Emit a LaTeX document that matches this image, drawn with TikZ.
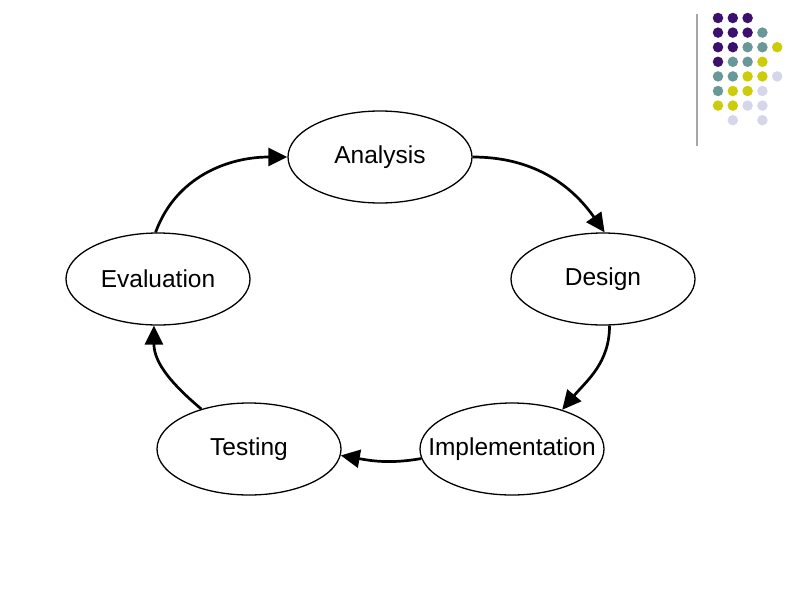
\documentclass[tikz,border=0pt]{standalone}
\usepackage{fontspec}
\setmainfont{Liberation Sans}
\usetikzlibrary{shapes.geometric,arrows.meta}
\definecolor{dpurple}{RGB}{62,16,110}
\definecolor{dteal}{RGB}{104,152,152}
\definecolor{dyellow}{RGB}{204,204,10}
\definecolor{dlav}{RGB}{214,214,235}
\begin{document}
\begin{tikzpicture}[x=1pt,y=-1pt,
  phase/.style={ellipse,draw,line width=1.3pt,minimum width=184pt,minimum height=92pt,inner sep=0pt,font=\fontsize{24.5}{28}\selectfont},
  flow/.style={line width=2.7pt,-{Triangle[length=19pt,width=18pt]}},
  dot/.style={circle,fill=#1,minimum size=10.5pt,inner sep=0pt}]
\useasboundingbox (0,0) rectangle (800,600);
% decoration
\draw[gray!70,line width=1.2pt] (697,14) -- (697,146);
\foreach \r/\cols in {0/{dpurple,dpurple,dpurple},1/{dpurple,dpurple,dpurple,dteal},2/{dpurple,dpurple,dteal,dteal,dyellow},3/{dpurple,dteal,dteal,dyellow},4/{dteal,dteal,dyellow,dyellow,dlav},5/{dteal,dyellow,dyellow,dlav},6/{dyellow,dyellow,dlav,dlav}}{
  \foreach \c [count=\i from 0] in \cols {
    \node[dot=\c] (d\r\i) at ({718+14.8*\i},{18+14.6*\r}) {};
  }
}
\node[dot=dlav] (d71) at ({718+14.8},{18+14.6*7}) {};
\node[dot=dlav] (d73) at ({718+14.8*3},{18+14.6*7}) {};
% phases
\node[phase] (A) at (380,157) {Analysis};
\node[phase] (D) at (603,279) {Design};
\node[phase] (I) at (512,449) {\makebox[0pt]{Implementation}};
\node[phase] (T) at (249,449) {Testing};
\node[phase] (E) at (158,279) {Evaluation};
% cycle
\draw[flow] (A.east) to[out=0,in=125] (D.88);
\draw[flow] (D.-82) to[out=-90,in=50] (I.38);
\draw[flow] (I.186) to[out=190,in=-10] (T.-4);
\draw[flow] (T.140) to[out=140,in=-90] (E.-95);
\draw[flow] (E.93) to[out=70,in=180] (A.west);
\end{tikzpicture}
\end{document}
